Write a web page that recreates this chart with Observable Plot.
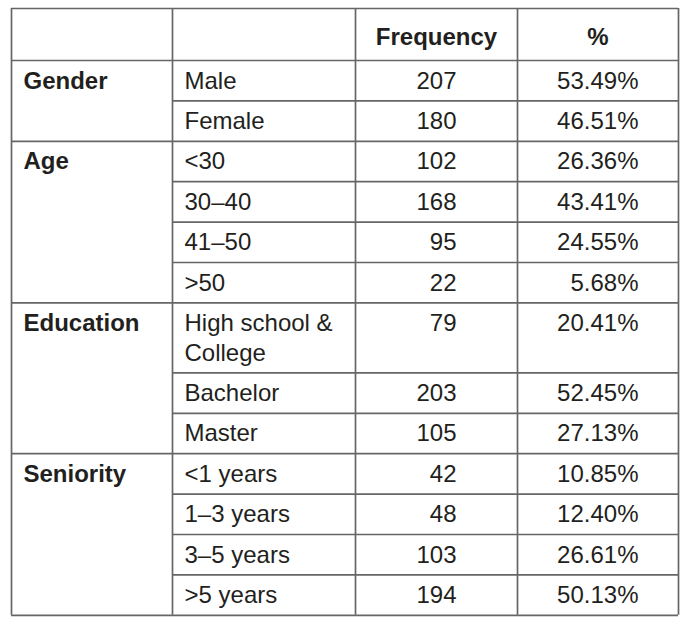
<!DOCTYPE html>
<html><head><meta charset="utf-8">
<script src="https://cdn.jsdelivr.net/npm/d3@7"></script>
<script src="https://cdn.jsdelivr.net/npm/@observablehq/plot@0.6"></script>
<style>body{margin:0;background:#fff}#chart svg{display:block}</style>
</head><body><div id="chart"></div>
<script>
// ---- data ----
const headers = ["", "", "Frequency", "%"];
const groups = ["Gender", "Age", "Education", "Seniority"];
const categories = ["Male", "Female", "<30", "30–40", "41–50", ">50", "High school &\nCollege", "Bachelor", "Master", "<1 years", "1–3 years", "3–5 years", ">5 years"];
const categoryGroup = ["Gender", "Gender", "Age", "Age", "Age", "Age", "Education", "Education", "Education", "Seniority", "Seniority", "Seniority", "Seniority"];
const frequency = [207, 180, 102, 168, 95, 22, 79, 203, 105, 42, 48, 103, 194];
const percent = [53.49, 46.51, 26.36, 43.41, 24.55, 5.68, 20.41, 52.45, 27.13, 10.85, 12.40, 26.61, 50.13];

// ---- layout ----
const W = 699, H = 619;
const colEdges = [11, 172, 355, 517, 678];
const top0 = 8, headerH = 52, rowH = 40.4, lineH = 29.6, fontSize = 24;
const padTop = 7;
const font = "'Liberation Sans', Arial, Helvetica, sans-serif";
const ink = "#231f20", lineColor = "#666666";

const rows = [];
let yy = top0 + headerH;
categories.forEach((c, i) => {
  const n = c.split("\n").length;
  const h = rowH + (n - 1) * lineH;
  rows.push({cat: c, group: categoryGroup[i], first: i === 0 || categoryGroup[i] !== categoryGroup[i - 1],
    lastInGroup: i === categories.length - 1 || categoryGroup[i + 1] !== categoryGroup[i],
    freq: frequency[i], pct: percent[i].toFixed(2) + "%", y0: yy, y1: yy + h});
  yy += h;
});
const bottom = yy;

const hlines = [
  {y: top0, x1: colEdges[0], x2: colEdges[4]},
  {y: top0 + headerH, x1: colEdges[0], x2: colEdges[4]},
  ...rows.map(r => ({y: r.y1, x1: r.lastInGroup ? colEdges[0] : colEdges[1], x2: colEdges[4]}))
];
const vlines = colEdges.map(x => ({x, y1: top0, y2: bottom}));
const headerCells = headers.map((h, i) => ({text: h, x: (colEdges[i] + colEdges[i + 1]) / 2, y: top0 + 15})).filter(d => d.text);
const groupCells = rows.filter(r => r.first && groups.includes(r.group));

const textOpts = {fontSize, fontFamily: font, fill: ink, lineAnchor: "top", lineHeight: lineH / fontSize};

const chart = Plot.plot({
  width: W, height: H, margin: 0,
  x: {domain: [0, W], range: [0, W], axis: null},
  y: {domain: [0, H], range: [0, H], axis: null},
  style: {background: "#fff"},
  marks: [
    Plot.ruleY(hlines, {y: "y", x1: "x1", x2: "x2", stroke: lineColor, strokeWidth: 1.7}),
    Plot.ruleX(vlines, {x: "x", y1: "y1", y2: "y2", stroke: lineColor, strokeWidth: 1.7}),
    Plot.text(headerCells, {x: "x", y: "y", text: "text", textAnchor: "middle", fontWeight: "bold", ...textOpts}),
    Plot.text(groupCells, {x: colEdges[0] + 12, y: d => d.y0 + padTop, text: "group", textAnchor: "start", fontWeight: "bold", ...textOpts}),
    Plot.text(rows, {x: colEdges[1] + 12, y: d => d.y0 + padTop, text: "cat", textAnchor: "start", ...textOpts}),
    Plot.text(rows, {x: colEdges[3] - 61, y: d => d.y0 + padTop, text: "freq", textAnchor: "end", ...textOpts}),
    Plot.text(rows, {x: colEdges[4] - 40, y: d => d.y0 + padTop, text: "pct", textAnchor: "end", ...textOpts})
  ]
});
document.getElementById("chart").append(chart);
</script>
</body></html>
